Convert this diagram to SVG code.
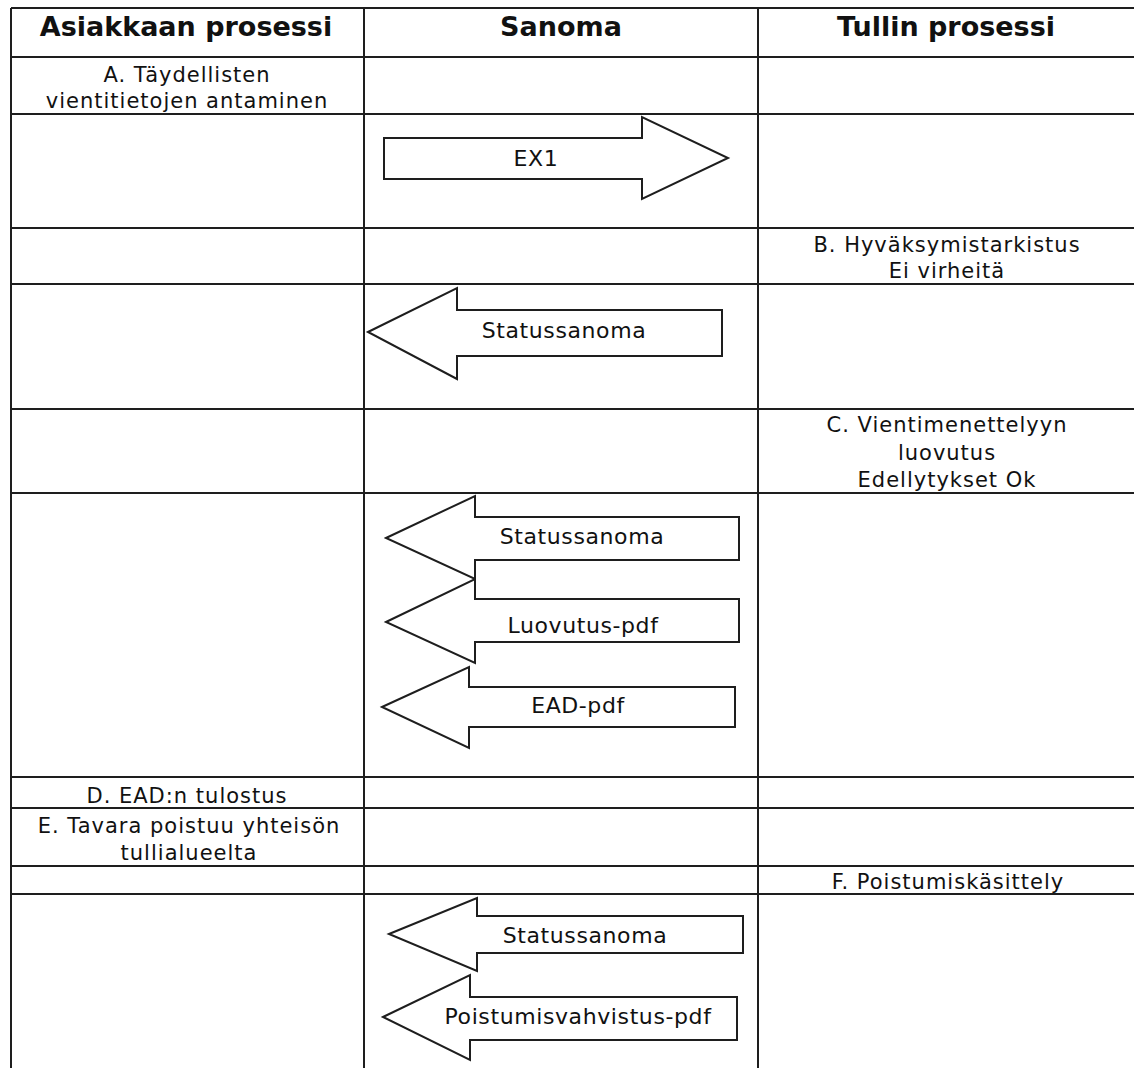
<svg xmlns="http://www.w3.org/2000/svg" width="1134" height="1068" viewBox="0 0 1134 1068">
<style>
.grid line{stroke:#1e1e1e;stroke-width:2}
.h{font-family:"DejaVu Sans","Liberation Sans",sans-serif;font-weight:bold;font-size:27px;fill:#111;text-anchor:middle}
.t{font-family:"DejaVu Sans","Liberation Sans",sans-serif;font-size:21px;letter-spacing:1px;fill:#111;text-anchor:middle}
.a{font-family:"DejaVu Sans","Liberation Sans",sans-serif;font-size:22px;letter-spacing:0.6px;fill:#111;text-anchor:middle}
.arr{fill:#fff;stroke:#1e1e1e;stroke-width:2;stroke-linejoin:miter}
</style>
<rect width="1134" height="1068" fill="#fff"/>
<g id="grid" class="grid">
<line x1="11" y1="8" x2="1134" y2="8"/>
<line x1="11" y1="57" x2="1134" y2="57"/>
<line x1="11" y1="114" x2="1134" y2="114"/>
<line x1="11" y1="228" x2="1134" y2="228"/>
<line x1="11" y1="284" x2="1134" y2="284"/>
<line x1="11" y1="409" x2="1134" y2="409"/>
<line x1="11" y1="493" x2="1134" y2="493"/>
<line x1="11" y1="777" x2="1134" y2="777"/>
<line x1="11" y1="808" x2="1134" y2="808"/>
<line x1="11" y1="866" x2="1134" y2="866"/>
<line x1="11" y1="894" x2="1134" y2="894"/>
<line x1="11" y1="8" x2="11" y2="1068"/>
<line x1="364" y1="8" x2="364" y2="1068"/>
<line x1="758" y1="8" x2="758" y2="1068"/>
</g>
<g id="header-asiakas"><text class="h" x="186" y="36">Asiakkaan prosessi</text></g>
<g id="header-sanoma"><text class="h" x="561" y="36">Sanoma</text></g>
<g id="header-tulli"><text class="h" x="946" y="36">Tullin prosessi</text></g>
<g id="step-a"><text class="t" x="187" y="82">A. Täydellisten</text><text class="t" x="187" y="108">vientitietojen antaminen</text></g>
<g id="step-b"><text class="t" x="947" y="252">B. Hyväksymistarkistus</text><text class="t" x="947" y="278">Ei virheitä</text></g>
<g id="step-c"><text class="t" x="947" y="432">C. Vientimenettelyyn</text><text class="t" x="947" y="460">luovutus</text><text class="t" x="947" y="487">Edellytykset Ok</text></g>
<g id="step-d"><text class="t" x="187" y="803">D. EAD:n tulostus</text></g>
<g id="step-e"><text class="t" x="189" y="833">E. Tavara poistuu yhteisön</text><text class="t" x="189" y="860">tullialueelta</text></g>
<g id="step-f"><text class="t" x="948" y="889">F. Poistumiskäsittely</text></g>
<g id="connectors">
<g id="msg-ex1"><polygon class="arr" points="384,138 642,138 642,117 728,158 642,199 642,179 384,179"/><text class="a" x="536" y="166">EX1</text></g>
<g id="msg-status1"><polygon class="arr" points="368,332 457,288 457,310 722,310 722,356 457,356 457,379"/><text class="a" x="564" y="338">Statussanoma</text></g>
<g id="msg-status2"><polygon class="arr" points="386,538 475,496 475,517 739,517 739,560 475,560 475,579"/><text class="a" x="582" y="544">Statussanoma</text></g>
<g id="msg-luovutus"><polygon class="arr" points="386,622 475,579 475,599 739,599 739,642 475,642 475,663"/><text class="a" x="583" y="633">Luovutus-pdf</text></g>
<g id="msg-ead"><polygon class="arr" points="382,707 469,667 469,687 735,687 735,727 469,727 469,748"/><text class="a" x="578" y="713">EAD-pdf</text></g>
<g id="msg-status3"><polygon class="arr" points="389,934 477,898 477,916 743,916 743,953 477,953 477,971"/><text class="a" x="585" y="943">Statussanoma</text></g>
<g id="msg-poistumis"><polygon class="arr" points="383,1017 470,975 470,997 737,997 737,1040 470,1040 470,1060"/><text class="a" x="578" y="1024">Poistumisvahvistus-pdf</text></g>
</g>
</svg>
